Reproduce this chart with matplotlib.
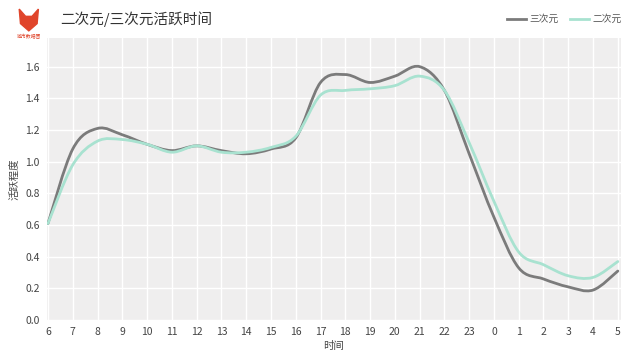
import numpy as np
import matplotlib.pyplot as plt
from matplotlib.path import Path
from matplotlib.patches import PathPatch, Polygon

plt.rcParams['font.family'] = ['Noto Sans CJK SC', 'DejaVu Sans']

hours = ['6', '7', '8', '9', '10', '11', '12', '13', '14', '15', '16', '17',
         '18', '19', '20', '21', '22', '23', '0', '1', '2', '3', '4', '5']
sanciyuan = [0.61, 1.08, 1.21, 1.17, 1.11, 1.07, 1.10, 1.07, 1.05, 1.08, 1.15, 1.50,
             1.55, 1.50, 1.54, 1.60, 1.45, 1.05, 0.65, 0.33, 0.26, 0.21, 0.19, 0.31]
erciyuan = [0.61, 0.98, 1.13, 1.14, 1.11, 1.06, 1.10, 1.06, 1.06, 1.09, 1.16, 1.42,
            1.45, 1.46, 1.48, 1.54, 1.45, 1.12, 0.75, 0.43, 0.35, 0.28, 0.27, 0.37]
yticks = [0.0, 0.2, 0.4, 0.6, 0.8, 1.0, 1.2, 1.4, 1.6]


def smooth_path(xs, ys):
    # catmull-rom turned into cubic bezier segments
    pts = np.column_stack([xs, ys])
    verts = [pts[0]]
    codes = [Path.MOVETO]
    n = len(pts)
    for i in range(n - 1):
        p0 = pts[max(i - 1, 0)]
        p1 = pts[i]
        p2 = pts[i + 1]
        p3 = pts[min(i + 2, n - 1)]
        c1 = p1 + (p2 - p0) / 6.0
        c2 = p2 - (p3 - p1) / 6.0
        verts += [c1, c2, p2]
        codes += [Path.CURVE4] * 3
    return Path(verts, codes)


fig = plt.figure(figsize=(6.4, 3.63), dpi=100)
ax = fig.add_axes([0.073, 0.118, 0.897, 0.777])
ax.set_facecolor('#efeeee')

x = np.arange(len(hours))
for vals, col, lab in [(sanciyuan, '#7b7b7b', '三次元'), (erciyuan, '#a8e2d0', '二次元')]:
    ax.add_patch(PathPatch(smooth_path(x, vals), facecolor='none', edgecolor=col,
                           lw=2.0, capstyle='round', zorder=3))
    ax.plot([], [], color=col, lw=2.0, label=lab)

ax.set_xlim(-0.05, 23.12)
ax.set_ylim(0, 1.78)
ax.set_xticks(x)
ax.set_xticklabels(hours)
ax.set_yticks(yticks)
ax.set_yticklabels([f'{v:.1f}' for v in yticks])
ax.grid(True, color='white', lw=1.0)
ax.set_axisbelow(True)
for s in ax.spines.values():
    s.set_visible(False)
ax.tick_params(length=0, labelsize=7.5, labelcolor='#444444', pad=5)
ax.set_xlabel('时间', fontsize=7.5, color='#444444', labelpad=3)
ax.set_ylabel('活跃程度', fontsize=7.5, color='#444444', labelpad=4)

fig.text(0.094, 0.948, '二次元/三次元活跃时间', fontsize=10.5, color='#333333',
         va='center', ha='left')
fig.legend(loc='upper right', bbox_to_anchor=(0.985, 0.985), ncol=2, frameon=False,
           fontsize=7, labelcolor='#555555', handlelength=2.0, handletextpad=0.3,
           columnspacing=1.2)

# small logo
logo = Polygon([[0.030, 0.975], [0.040, 0.955], [0.050, 0.955], [0.060, 0.975],
                [0.058, 0.935], [0.045, 0.915], [0.032, 0.935]],
               closed=True, transform=fig.transFigure, color='#e0452b')
fig.patches.append(logo)
fig.text(0.045, 0.898, '城市数据团', fontsize=3.5, color='#e0452b', ha='center', va='center')

fig.savefig('out.png', dpi=100)
